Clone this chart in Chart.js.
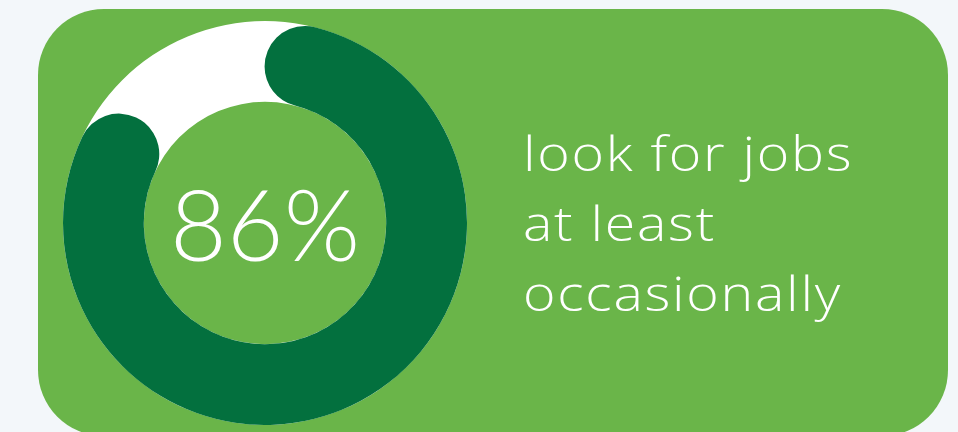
<!DOCTYPE html>
<html>
<head>
<meta charset="utf-8">
<script src="https://cdn.jsdelivr.net/npm/chart.js@4"></script>
<style>
  html, body { margin: 0; padding: 0; }
  body { width: 958px; height: 432px; background: #f3f7fa; position: relative; overflow: hidden; font-family: Lato, "Open Sans", sans-serif; }
  .card { position: absolute; left: 38px; top: 9px; width: 910px; height: 427px; background: #6ab549; border-radius: 66px; }
  .ring { position: absolute; left: 63px; top: 21px; width: 404px; height: 404px; }
  .value { position: absolute; left: 63px; top: 21px; width: 404px; height: 404px; display: flex; align-items: center; justify-content: center; color: #fff; font-size: 98px; font-weight: 300; line-height: 1; }
  .label { position: absolute; left: 523px; top: 118px; color: #fff; font-family: "Open Sans", Lato, sans-serif; font-size: 48px; font-weight: 300; line-height: 70px; letter-spacing: 1.5px; white-space: nowrap; transform: scaleX(1.155); transform-origin: 0 0; }
</style>
</head>
<body>
<div class="card"></div>
<div class="ring"><canvas id="chart"></canvas></div>
<div class="value" id="value"></div>
<div class="label" id="label"></div>
<script>
// Share of respondents who look for jobs at least occasionally
const categories = ['look for jobs at least occasionally', 'rest'];
const shares = [86, 14];
const labelLines = ['look for jobs', 'at least', 'occasionally'];

const ringColor = '#03703e';
const trackColor = '#ffffff';

document.getElementById('value').textContent = shares[0] + '%';
document.getElementById('label').innerHTML = labelLines.join('<br>');

// Full white track drawn under the arcs, sized from the chart's own arc geometry
const trackPlugin = {
  id: 'track',
  beforeDatasetsDraw(chart) {
    const arc = chart.getDatasetMeta(0).data[0];
    if (!arc) return;
    const { x, y, innerRadius, outerRadius } = arc.getProps(['x', 'y', 'innerRadius', 'outerRadius'], true);
    const ctx = chart.ctx;
    ctx.save();
    ctx.beginPath();
    ctx.arc(x, y, outerRadius, 0, Math.PI * 2);
    ctx.arc(x, y, innerRadius, Math.PI * 2, 0, true);
    ctx.closePath();
    ctx.fillStyle = trackColor;
    ctx.fill();
    ctx.restore();
  }
};

new Chart(document.getElementById('chart'), {
  type: 'doughnut',
  data: {
    labels: categories,
    datasets: [{
      data: shares,
      backgroundColor: [ringColor, 'rgba(0,0,0,0)'],
      borderWidth: 0,
      borderRadius: [200, 0]
    }]
  },
  options: {
    responsive: true,
    maintainAspectRatio: true,
    aspectRatio: 1,
    animation: false,
    cutout: '60%',
    rotation: 0,
    layout: { padding: 0 },
    plugins: { legend: { display: false }, tooltip: { enabled: false } }
  },
  plugins: [trackPlugin]
});
</script>
</body>
</html>
